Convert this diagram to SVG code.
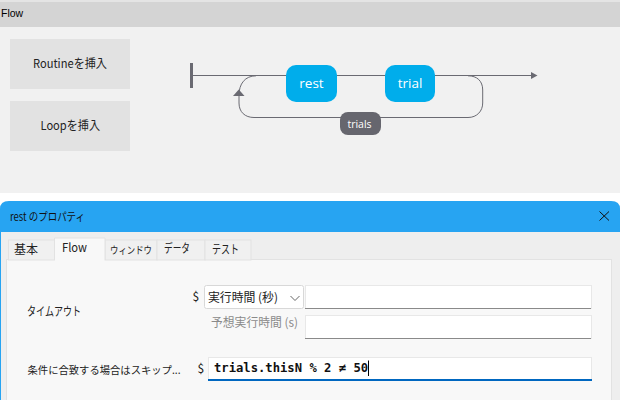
<svg xmlns="http://www.w3.org/2000/svg" width="620" height="400" viewBox="0 0 620 400">
<style>
text{font-family:"Noto Sans CJK JP","Noto Sans",sans-serif;fill:#222}
.ui{font-size:12px}
.btn{fill:#e2e2e2}
.node{fill:#00adeb}
.nl{fill:#fff;font-size:13.500px;text-anchor:middle;font-family:"Open Sans","Noto Sans",sans-serif}
.wire{fill:none;stroke:#6a6a72;stroke-width:1}
.tab{fill:#f0f0f0;stroke:#e2e2e2}
.field{fill:#fff;stroke:#e8e8e8}
.under{fill:none;stroke:#8a8a8a;stroke-width:1}
.mono{font-family:"DejaVu Sans Mono","Liberation Mono",monospace;font-size:12.200px;font-weight:bold;fill:#111}
</style>
<rect width="620" height="400" fill="#fff"/>
<rect width="620" height="2" fill="#e4e4e4"/>
<rect y="2" width="620" height="25" fill="#d4d4d4"/>
<text x="1" y="16.500" style="font-family:'Liberation Sans',sans-serif;font-size:10.500px;fill:#000">Flow</text>
<rect y="27" width="620" height="166" fill="#f1f1f1"/>
<g id="insert-routine"><rect class="btn" x="10" y="39" width="120" height="50"/><text class="ui" x="33" y="67.500" textLength="74" lengthAdjust="spacingAndGlyphs">Routineを挿入</text></g>
<g id="insert-loop"><rect class="btn" x="10" y="101" width="120" height="50"/><text class="ui" x="40.500" y="130" textLength="59.500" lengthAdjust="spacingAndGlyphs">Loopを挿入</text></g>
<g id="connectors">
<path class="wire" d="M191 75.500H531"/>
<path d="M531 72L537.500 75.500L531 79Z" fill="#6a6a72"/>
<path class="wire" d="M256 75.800C245 75.800 239 84 239 95V103C239 112 245 117.500 254 117.500H468C477 117.500 482.700 111 482.700 103V90C482.700 81 477 75.800 468 75.800"/>
<path d="M238.800 89.500L233 96H244.500Z" fill="#6a6a72"/>
<rect x="190" y="63" width="3" height="25" fill="#6a6a72"/>
</g>
<g id="rest"><rect class="node" x="286" y="65" width="51" height="37" rx="10"/><text class="nl" x="311.500" y="88">rest</text></g>
<g id="trial"><rect class="node" x="385" y="65" width="50" height="37" rx="10"/><text class="nl" x="410" y="88">trial</text></g>
<g id="trials"><rect x="340" y="112" width="41" height="23" rx="8" fill="#66666e"/><text x="359.500" y="128" text-anchor="middle" style="fill:#fff;font-size:10.500px;font-family:'Open Sans',sans-serif">trials</text></g>
<g id="dialog">
<path d="M0 400V209Q0 201 9 201H611Q620 201 620 209V400Z" fill="#eeeeee"/>
<path d="M0 232V209Q0 201 9 201H611Q620 201 620 209V232Z" fill="#27a4f2"/>
<rect y="232" width="1" height="168" fill="#27a4f2"/>
<text x="10" y="221" textLength="75" lengthAdjust="spacingAndGlyphs" style="font-size:11.500px;fill:#111">rest のプロパティ</text>
<path d="M599.500 211.500L609 220.500M609 211.500L599.500 220.500" stroke="#111" fill="none"/>
<rect x="6.500" y="259.500" width="605" height="150" fill="#f8f8f8" stroke="#e2e2e2"/>
<rect class="tab" x="8.500" y="240" width="46" height="20"/>
<rect class="tab" x="105" y="240" width="52" height="20"/>
<rect class="tab" x="157" y="240" width="48" height="20"/>
<rect class="tab" x="205" y="240" width="46" height="20"/>
<path d="M54.500 260V238H105V260" fill="#f8f8f8" stroke="#e2e2e2"/>
<text class="ui" x="14" y="254" textLength="24" lengthAdjust="spacingAndGlyphs">基本</text>
<text class="ui" x="62" y="252" textLength="25" lengthAdjust="spacingAndGlyphs">Flow</text>
<text x="110" y="254" textLength="42" lengthAdjust="spacingAndGlyphs" style="font-size:10px">ウィンドウ</text>
<text class="ui" x="164" y="253" textLength="26" lengthAdjust="spacingAndGlyphs">データ</text>
<text class="ui" x="212" y="254" textLength="27" lengthAdjust="spacingAndGlyphs">テスト</text>
<text class="ui" x="27" y="316" textLength="54" lengthAdjust="spacingAndGlyphs">タイムアウト</text>
<text class="ui" x="192.500" y="301">$</text>
<rect x="204.500" y="285.500" width="99" height="23" rx="2" fill="#fff" stroke="#d8d8d8"/>
<text class="ui" x="208" y="302" textLength="70" lengthAdjust="spacingAndGlyphs">実行時間 (秒)</text>
<path d="M290.500 296L295 300.500L299.500 296" fill="none" stroke="#666"/>
<rect class="field" x="305.500" y="285.500" width="286" height="23"/>
<path class="under" d="M305 308.500H591"/>
<text class="ui" x="211" y="327" textLength="87" lengthAdjust="spacingAndGlyphs" style="fill:#8a8a8a">予想実行時間 (s)</text>
<rect class="field" x="305.500" y="315.500" width="286" height="23"/>
<path class="under" d="M305 338.500H591"/>
<text x="27.500" y="374" textLength="153" lengthAdjust="spacingAndGlyphs" style="font-size:10.300px">条件に合致する場合はスキップ...</text>
<text class="ui" x="197.500" y="373">$</text>
<rect class="field" x="208.500" y="357.500" width="383" height="23"/>
<path d="M208 380H592" stroke="#0067c0" stroke-width="2" fill="none"/>
<text class="mono" x="214" y="372" xml:space="preserve">trials.thisN % 2 ≠ 50</text>
<path d="M368.500 360.500V376" stroke="#000" fill="none"/>
</g>
</svg>
